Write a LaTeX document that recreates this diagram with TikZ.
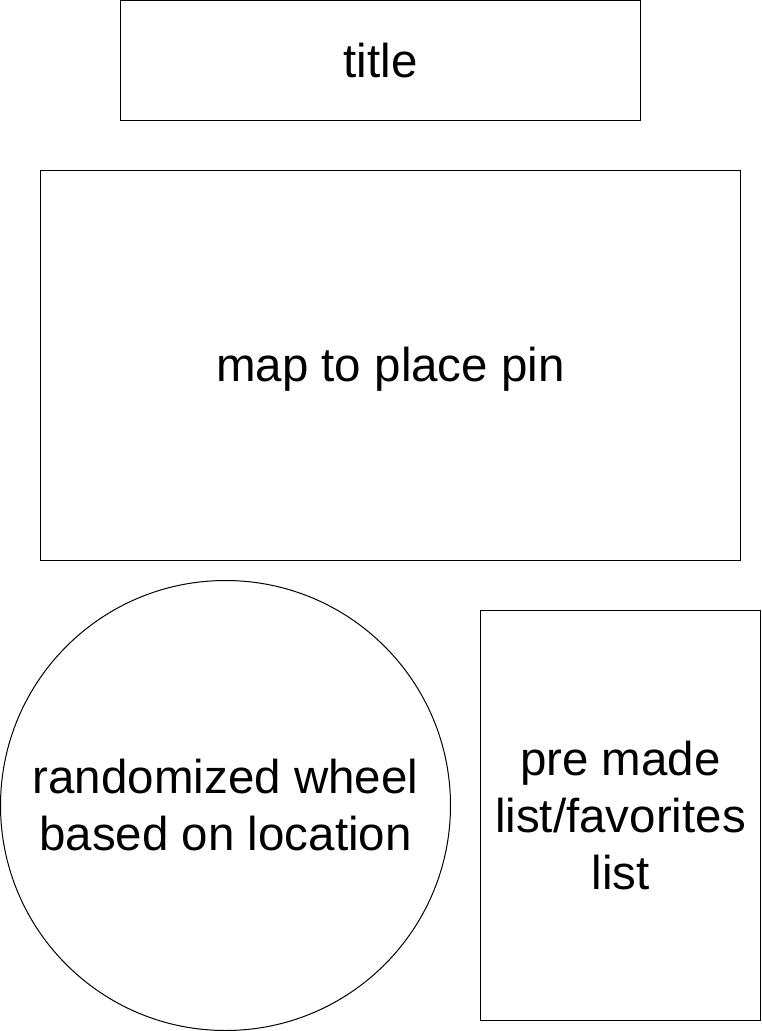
\documentclass[tikz,border=0pt]{standalone}
\usepackage{fontspec}
\setmainfont{Liberation Sans}
\begin{document}
\begin{tikzpicture}[x=1pt,y=-1pt,
  box/.style={draw=black,line width=1pt,inner sep=0pt},
  lbl/.style={align=center,font=\fontsize{47.5}{57}\selectfont,inner sep=0pt}]
\useasboundingbox (0,0) rectangle (761,1031);
\fill[white] (0,0) rectangle (761,1031);
\draw[box] (120.5,0.5) rectangle (640.5,120.5);
\node[lbl] (title) at (380.5,60.5) {title};
\draw[box] (40.5,170.5) rectangle (740.5,560.5);
\node[lbl] (map) at (390.5,369.5) {map to place pin};
\draw[box] (225.5,805.5) circle (225);
\node[lbl] (wheel) at (225.5,805.5) {randomized wheel\\based on location};
\draw[box] (480.5,610.5) rectangle (760.5,1020.5);
\node[lbl] (list) at (620.5,815.5) {pre made\\list/favorites\\list};
\end{tikzpicture}
\end{document}
